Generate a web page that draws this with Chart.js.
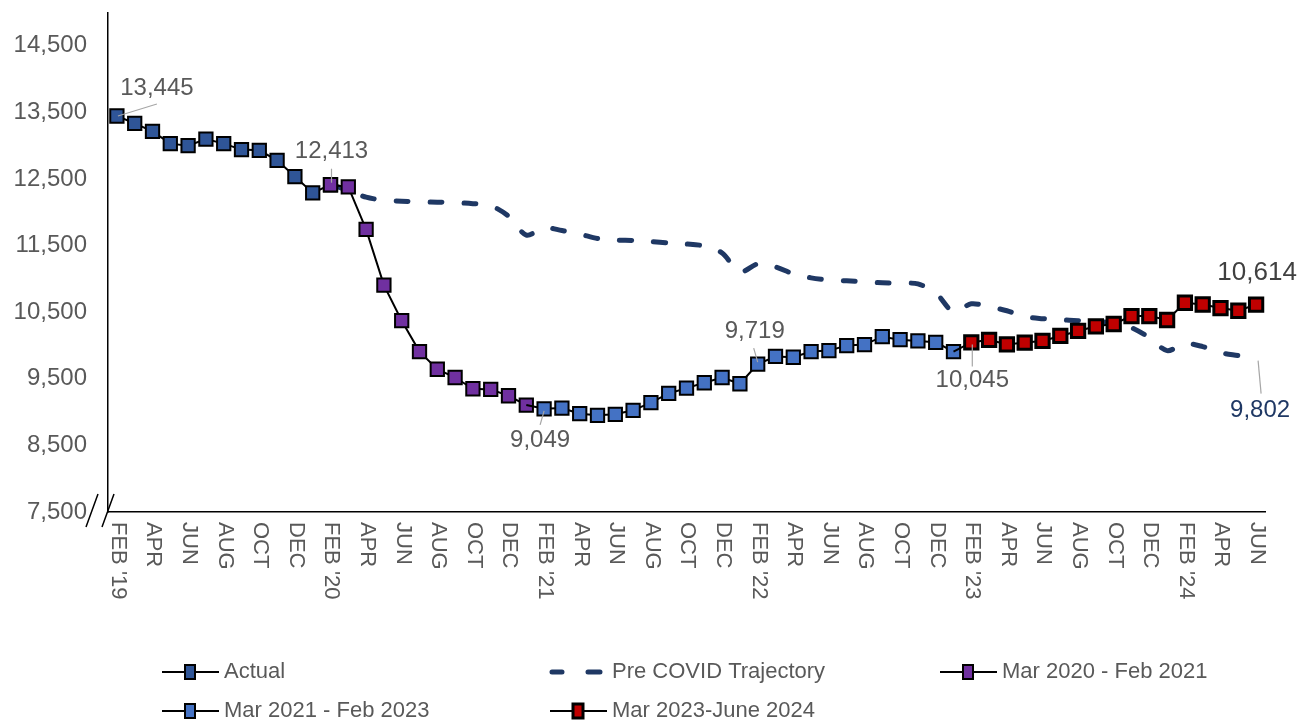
<!DOCTYPE html>
<html>
<head>
<meta charset="utf-8">
<script src="https://cdn.jsdelivr.net/npm/chart.js@4.4.1/dist/chart.umd.min.js"></script>
<style>
  html, body { margin: 0; padding: 0; background: #fff; }
  #wrap { width: 1299px; height: 722px; }
</style>
</head>
<body>
<div id="wrap"><canvas id="trend" width="1299" height="722"></canvas></div>
<script>
// months Feb 2019 .. Jun 2024
var months = ["FEB '19","MAR","APR","MAY","JUN","JUL","AUG","SEP","OCT","NOV","DEC","JAN",
  "FEB '20","MAR","APR","MAY","JUN","JUL","AUG","SEP","OCT","NOV","DEC","JAN",
  "FEB '21","MAR","APR","MAY","JUN","JUL","AUG","SEP","OCT","NOV","DEC","JAN",
  "FEB '22","MAR","APR","MAY","JUN","JUL","AUG","SEP","OCT","NOV","DEC","JAN",
  "FEB '23","MAR","APR","MAY","JUN","JUL","AUG","SEP","OCT","NOV","DEC","JAN",
  "FEB '24","MAR","APR","MAY","JUN"];

var yTicks = [7500, 8500, 9500, 10500, 11500, 12500, 13500, 14500];

// each series starts at the index given next to it
var actualStart = 0;
var actual = [13445, 13333, 13213, 13030, 13000, 13098, 13030, 12940, 12929, 12780, 12536, 12290, 12413];

var covidStart = 12;
var covid = [12413, 12380, 11743, 10906, 10372, 9908, 9643, 9519, 9350, 9340, 9245, 9105];

var recoveryStart = 23;
var recovery = [9105, 9049, 9060, 8976, 8951, 8966, 9026, 9141, 9280, 9359, 9440, 9519, 9425,
  9719, 9835, 9823, 9908, 9923, 9998, 10013, 10132, 10087, 10068, 10047, 9908];

var recentStart = 47;
var recent = [9908, 10045, 10085, 10015, 10043, 10068, 10143, 10218, 10287, 10322, 10442, 10442,
  10382, 10641, 10615, 10562, 10521, 10614];

var trajStart = 12;
var trajectory = [12413, 12330, 12226, 12181, 12166, 12158, 12151, 12144, 12129, 12099, 11942, 11658,
  11769, 11725, 11673, 11606, 11583, 11576, 11561, 11538, 11523, 11493, 11389, 11104,
  11224, 11179, 11075, 11015, 10985, 10970, 10955, 10940, 10933, 10925, 10790, 10506,
  10626, 10581, 10521, 10432, 10402, 10387, 10372, 10357, 10342, 10267, 10117, 9923,
  10028, 9983, 9893, 9848, 9802];

function pad(start, vals) {
  var out = [];
  for (var i = 0; i < months.length; i++) {
    var j = i - start;
    out.push(j >= 0 && j < vals.length ? vals[j] : null);
  }
  return out;
}

var FONT = "'Liberation Sans', Arial, sans-serif";
var GREY = '#595959';

// which points get a value label: dataset, month index, label offset, leader line
var callouts = [
  { ds: 0, i: 0,  dx: 40, dy: -28, lead: [1, 0, 40, -12] },
  { ds: 2, i: 12, dx: 1,  dy: -33, lead: [1, -16, 1, -2] },
  { ds: 3, i: 24, dx: -4, dy: 32,  lead: [0, 2, -4, 16] },
  { ds: 3, i: 36, dx: -3, dy: -33, lead: [-4, -16, 0, -2] },
  { ds: 4, i: 48, dx: 1,  dy: 38,  lead: [1, 2, 1, 24] },
  { ds: 4, i: 64, dx: 1,  dy: -32, size: 26, color: '#404040' },
  { ds: 1, i: 64, dx: 4,  dy: 52,  lead: [2, 2, 5, 35], color: '#1F3864' }
];

function ready() {
  var ctx = document.getElementById('trend').getContext('2d');

  function sq(fill, bw, start) {
    return {
      borderColor: '#000', borderWidth: 2, tension: 0,
      pointStyle: 'rect', pointBackgroundColor: fill, pointBorderColor: '#000',
      pointBorderWidth: bw,
      pointRadius: function (c) { return c.dataIndex === start ? 0 : 9.4; }
    };
  }

  var overlay = {
    id: 'overlay',
    afterDraw: function (chart) {
      var c = chart.ctx, xs = chart.scales.x, ys = chart.scales.y;
      c.save();

      // rotated month labels
      c.fillStyle = GREY;
      c.font = '22px ' + FONT;
      c.textAlign = 'left';
      c.textBaseline = 'middle';
      months.forEach(function (m, i) {
        if (i % 2) return;
        c.save();
        c.translate(xs.getPixelForValue(i) + 1, xs.top + 10);
        c.rotate(Math.PI / 2);
        c.fillText(m, 0, 0);
        c.restore();
      });

      // axis break
      c.strokeStyle = '#000';
      c.lineWidth = 1.5;
      c.beginPath();
      c.moveTo(86, 527); c.lineTo(98, 494);
      c.moveTo(102, 527); c.lineTo(114, 494);
      c.stroke();

      // value callouts
      callouts.forEach(function (o) {
        var v = chart.data.datasets[o.ds].data[o.i];
        var px = xs.getPixelForValue(o.i), py = ys.getPixelForValue(v);
        if (o.lead) {
          c.strokeStyle = '#A6A6A6';
          c.lineWidth = 1.2;
          c.beginPath();
          c.moveTo(px + o.lead[0], py + o.lead[1]);
          c.lineTo(px + o.lead[2], py + o.lead[3]);
          c.stroke();
        }
        c.fillStyle = o.color || GREY;
        c.font = (o.size || 24) + 'px ' + FONT;
        c.textAlign = 'center';
        c.textBaseline = 'middle';
        c.fillText(v.toLocaleString('en-US'), px + o.dx, py + o.dy);
      });

      // legend in fixed columns
      var cols = [162, 550, 940];
      var rows = [672, 711];
      var slots = [[0, 0], [1, 0], [2, 0], [0, 1], [1, 1]];
      chart.data.datasets.forEach(function (d, k) {
        var x = cols[slots[k][0]], y = rows[slots[k][1]];
        if (d.borderDash) {
          c.strokeStyle = d.borderColor;
          c.lineWidth = 5;
          c.lineCap = 'round';
          c.beginPath();
          c.moveTo(x + 2, y); c.lineTo(x + 12, y);
          c.moveTo(x + 38, y); c.lineTo(x + 50, y);
          c.stroke();
          c.lineCap = 'butt';
        } else {
          c.strokeStyle = '#000';
          c.lineWidth = 2;
          c.beginPath();
          c.moveTo(x, y); c.lineTo(x + 57, y);
          c.stroke();
          c.fillStyle = d.pointBackgroundColor;
          c.fillRect(x + 23, y - 7, 10, 14);
          c.lineWidth = d.pointBorderWidth;
          c.strokeRect(x + 23, y - 7, 10, 14);
        }
        c.fillStyle = GREY;
        c.font = '22px ' + FONT;
        c.textAlign = 'left';
        c.textBaseline = 'middle';
        c.fillText(d.label, x + 62, y);
      });

      c.restore();
    }
  };

  new Chart(ctx, {
    type: 'line',
    data: {
      labels: months,
      datasets: [
        Object.assign({ label: 'Actual', data: pad(actualStart, actual), order: 4 }, sq('#2F5597', 2, -1)),
        { label: 'Pre COVID Trajectory', data: pad(trajStart, trajectory), order: 5,
          borderColor: '#1F3864', borderWidth: 5, borderDash: [12, 22], borderCapStyle: 'round',
          tension: 0.3, pointRadius: 0 },
        Object.assign({ label: 'Mar 2020 - Feb 2021', data: pad(covidStart, covid), order: 3 }, sq('#7030A0', 2, -1)),
        Object.assign({ label: 'Mar 2021 - Feb 2023', data: pad(recoveryStart, recovery), order: 2 }, sq('#4472C4', 2, recoveryStart)),
        Object.assign({ label: 'Mar 2023-June 2024', data: pad(recentStart, recent), order: 1 }, sq('#C00000', 3, recentStart))
      ]
    },
    options: {
      responsive: false,
      animation: false,
      layout: { padding: { left: 0, top: 12, right: 34, bottom: 0 } },
      plugins: { legend: { display: false }, tooltip: { enabled: false } },
      scales: {
        x: {
          offset: true,
          grid: { display: false, drawTicks: false },
          border: { display: true, color: '#000', width: 1.5 },
          ticks: { display: false },
          afterFit: function (s) { s.height = 210; s.paddingLeft = 0; s.paddingRight = 0; }
        },
        y: {
          min: 7500, max: 15000,
          grid: { display: false, drawTicks: false },
          border: { display: true, color: '#000', width: 1.5 },
          ticks: {
            padding: 21, color: GREY, font: { family: FONT, size: 24 },
            callback: function (v) { return v.toLocaleString('en-US'); }
          },
          afterBuildTicks: function (s) { s.ticks = yTicks.map(function (v) { return { value: v }; }); },
          afterFit: function (s) { s.width = 108; s.paddingTop = 0; s.paddingBottom = 0; }
        }
      }
    },
    plugins: [overlay]
  });
}

ready();
</script>
</body>
</html>
